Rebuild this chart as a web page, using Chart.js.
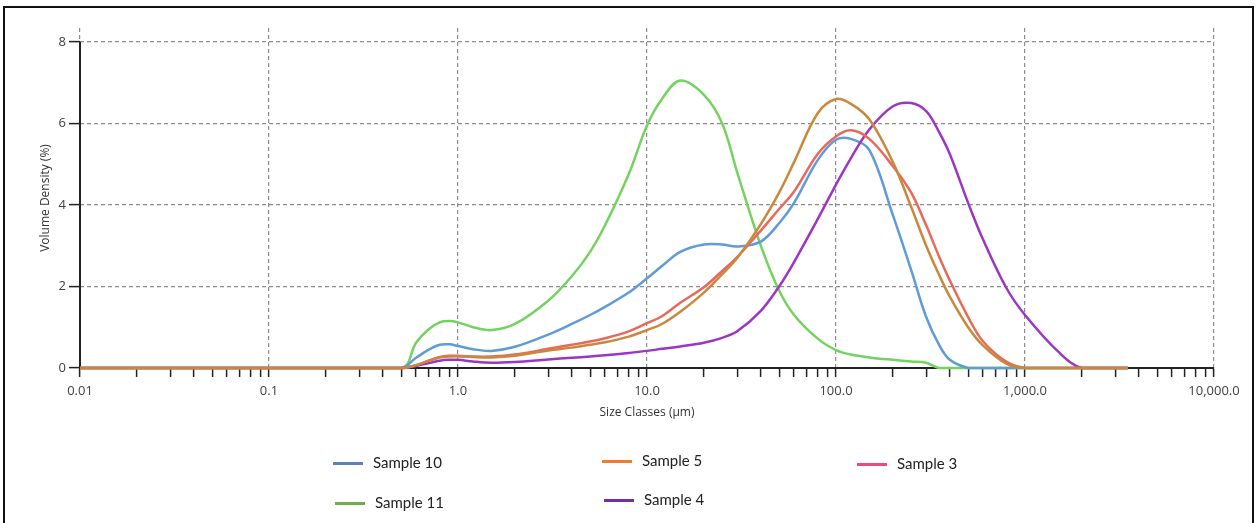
<!DOCTYPE html>
<html>
<head>
<meta charset="utf-8">
<script src="https://cdn.jsdelivr.net/npm/chart.js@4.4.0/dist/chart.umd.min.js"></script>
<style>
  body { margin: 0; background: #fff; }
  #wrap { position: relative; width: 1256px; height: 523px; overflow: hidden; }
  #frame { position: absolute; left: 3px; top: 6px; width: 1251px; height: 540px; border: 2.5px solid #111; box-sizing: border-box; }
  #chart { position: absolute; left: 0; top: 0; }
  .leg { position: absolute; height: 20px; line-height: 20px; font-family: Lato, "Open Sans", sans-serif; font-size: 15px; color: #222; white-space: nowrap; }
  .leg .sw { display: inline-block; width: 30px; height: 3px; margin-right: 10px; vertical-align: middle; position: relative; top: -1px; }
</style>
</head>
<body>
<div id="wrap">
  <div id="frame"></div>
  <canvas id="chart" width="1256" height="523"></canvas>
  <div id="legend"></div>
</div>
<script>
// tamanhos das classes (µm)
const sizes = [0.01, 0.5, 0.6, 0.7, 0.8, 0.9, 1, 1.2, 1.5, 2,
               3, 4, 5, 6, 8, 10, 12, 15, 20, 25,
               30, 40, 50, 60, 80, 100, 120, 150, 200, 250,
               300, 350, 400, 500, 600, 800, 1000, 1500, 2000, 3500];

// densidade em volume (%) por amostra
const sample10 = [0, 0, 0.25, 0.45, 0.57, 0.58, 0.54, 0.46, 0.42, 0.52,
                  0.82, 1.08, 1.3, 1.5, 1.85, 2.2, 2.5, 2.85, 3.03, 3.03,
                  2.98, 3.1, 3.55, 4.05, 5.1, 5.6, 5.62, 5.35, 3.75, 2.4,
                  1.25, 0.58, 0.2, 0, 0, 0, 0, 0, 0, 0];
const sample5 = [0, 0, 0.07, 0.18, 0.26, 0.28, 0.29, 0.27, 0.26, 0.3,
                 0.43, 0.5, 0.57, 0.63, 0.77, 0.93, 1.08, 1.38, 1.85, 2.3,
                 2.7, 3.53, 4.3, 5.05, 6.25, 6.6, 6.48, 6.1, 5.05, 3.95,
                 3.0, 2.3, 1.75, 1.0, 0.55, 0.1, 0, 0, 0, 0];
const sample3 = [0, 0, 0.07, 0.18, 0.27, 0.3, 0.3, 0.28, 0.28, 0.33,
                 0.47, 0.57, 0.65, 0.73, 0.9, 1.1, 1.27, 1.6, 1.98, 2.38,
                 2.72, 3.37, 3.9, 4.33, 5.25, 5.68, 5.83, 5.62, 4.95, 4.3,
                 3.5, 2.75, 2.15, 1.25, 0.65, 0.15, 0, 0, 0, 0];
const sample11 = [0, 0, 0.62, 0.95, 1.12, 1.15, 1.12, 1.0, 0.93, 1.08,
                  1.65, 2.25, 2.85, 3.5, 4.75, 5.95, 6.6, 7.05, 6.7, 6.0,
                  4.8, 3.0, 1.9, 1.3, 0.72, 0.44, 0.33, 0.26, 0.2, 0.16,
                  0.13, 0, 0, 0, 0, 0, 0, 0, 0, 0];
const sample4 = [0, 0, 0.05, 0.12, 0.18, 0.2, 0.2, 0.16, 0.13, 0.15,
                 0.21, 0.25, 0.28, 0.31, 0.37, 0.42, 0.47, 0.53, 0.62, 0.74,
                 0.9, 1.4, 2.0, 2.6, 3.65, 4.5, 5.15, 5.85, 6.42, 6.5,
                 6.3, 5.8, 5.25, 4.05, 3.15, 1.95, 1.3, 0.4, 0, 0];

const seriesNames = ['Sample 10', 'Sample 5', 'Sample 3', 'Sample 11', 'Sample 4'];
const seriesData = [sample10, sample5, sample3, sample11, sample4];
const lineColors = ['#5f9bd6', '#c8893c', '#e8685c', '#74d260', '#9b36c4'];
const legendColors = ['#5b7fc2', '#ed7d31', '#e84c7d', '#70ad47', '#7030a0'];
const drawOrder = [3, 0, 1, 4, 2];

// eixos
const decadeValues = [0.01, 0.1, 1, 10, 100, 1000, 10000];
const decadeLabels = ['0.01', '0.1', '1.0', '10.0', '100.0', '1,000.0', '10,000.0'];
const yTickValues = [0, 2, 4, 6, 8];

function decadeIndex(v) {
    return decadeValues.findIndex(d => Math.abs(Math.log10(v) - Math.log10(d)) < 1e-6);
}

const xTickValues = [];
decadeValues.forEach((d, i) => {
    if (i === decadeValues.length - 1) { xTickValues.push(d); return; }
    for (let m = 1; m <= 9; m++) xTickValues.push(m * d);
});

const datasets = seriesNames.map((name, i) => ({
    label: name,
    data: sizes.map((s, j) => ({ x: s, y: seriesData[i][j] })),
    borderColor: lineColors[i],
    borderWidth: 2.5,
    pointRadius: 0,
    tension: 0.35,
    clip: false,
    order: drawOrder[i]
}));

// eixo y sólido só de 0 a 8
const yAxisLine = {
    id: 'yAxisLine',
    beforeDatasetsDraw(chart) {
        const x = chart.scales.x.left;
        const y = chart.scales.y;
        const c = chart.ctx;
        c.save();
        c.strokeStyle = '#222';
        c.lineWidth = 2;
        c.beginPath();
        c.moveTo(x, y.getPixelForValue(yTickValues[0]));
        c.lineTo(x, y.getPixelForValue(yTickValues[yTickValues.length - 1]));
        c.stroke();
        c.restore();
    }
};

const tickFont = { family: '"Open Sans", sans-serif', size: 13 };
const titleFont = { family: '"Open Sans", sans-serif', size: 12 };

new Chart(document.getElementById('chart'), {
    type: 'line',
    data: { datasets },
    plugins: [yAxisLine],
    options: {
        responsive: false,
        animation: false,
        layout: { padding: { top: 28, right: 42, left: 0, bottom: 0 } },
        plugins: { legend: { display: false }, tooltip: { enabled: false } },
        scales: {
            x: {
                type: 'logarithmic',
                min: 0.01,
                max: 10000,
                afterBuildTicks: scale => { scale.ticks = xTickValues.map(v => ({ value: v })); },
                afterFit: scale => { scale.height = 155; },
                ticks: {
                    autoSkip: false,
                    maxRotation: 0,
                    padding: 6,
                    color: '#404040',
                    font: tickFont,
                    callback: v => { const k = decadeIndex(v); return k >= 0 ? decadeLabels[k] : ''; }
                },
                grid: {
                    color: ctx => (ctx.tick && decadeIndex(ctx.tick.value) >= 0) ? '#8c8c8c' : 'rgba(0,0,0,0)',
                    lineWidth: 1.2,
                    tickColor: '#222',
                    tickLength: 9,
                    tickWidth: 1.5
                },
                border: { display: true, color: '#222', width: 2, dash: [4, 3] },
                title: {
                    display: true,
                    text: 'Size Classes (µm)',
                    color: '#333',
                    font: titleFont,
                    padding: { top: 0, bottom: 103 }
                }
            },
            y: {
                min: 0,
                max: 8.34,
                afterBuildTicks: scale => { scale.ticks = yTickValues.map(v => ({ value: v })); },
                afterFit: scale => { scale.width = 80; },
                ticks: { padding: 3, color: '#404040', font: tickFont },
                grid: {
                    color: '#8c8c8c',
                    lineWidth: 1.2,
                    tickColor: '#222',
                    tickLength: 11,
                    tickWidth: 1.5
                },
                border: { display: false, dash: [4, 3] },
                title: {
                    display: true,
                    text: 'Volume Density (%)',
                    color: '#333',
                    font: titleFont,
                    padding: { top: 38, bottom: 0 }
                }
            }
        }
    }
});

// legenda em duas linhas
const legendPos = [[333, 452], [602, 450], [857, 453], [335, 492], [604, 489]];
const legendBox = document.getElementById('legend');
seriesNames.forEach((name, i) => {
    const el = document.createElement('div');
    el.className = 'leg';
    el.style.left = legendPos[i][0] + 'px';
    el.style.top = legendPos[i][1] + 'px';
    el.innerHTML = '<span class="sw" style="background:' + legendColors[i] + '"></span>' + name;
    legendBox.appendChild(el);
});
</script>
</body>
</html>
